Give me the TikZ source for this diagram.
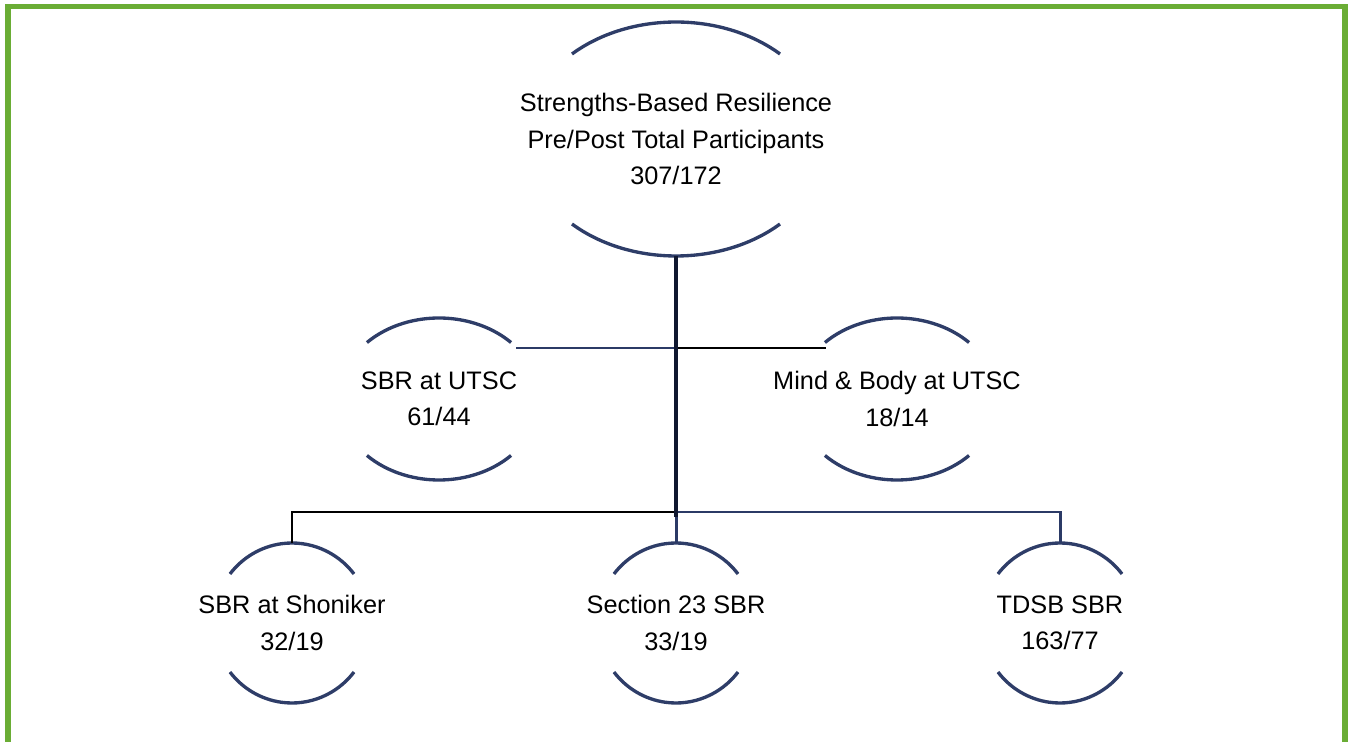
\documentclass[tikz,border=0pt]{standalone}
\usepackage{fontspec}
\setmainfont{Liberation Sans}
\usetikzlibrary{calc}
\definecolor{framegreen}{HTML}{6AAD35}
\definecolor{arcnavy}{HTML}{2E3D68}
\definecolor{linknavy}{HTML}{2B3A66}
\definecolor{trunkdark}{HTML}{101830}

% upper and lower arcs of a ring node: node, x radius, y radius, opening angle
\newcommand\ringarcs[4]{%
  \draw[arcline] (#1.center) ++(#4:#2 and #3)
    arc[start angle=#4, end angle=180-#4, x radius=#2*0.2mm, y radius=#3*0.2mm];
  \draw[arcline] (#1.center) ++(-#4:#2 and #3)
    arc[start angle=-#4, end angle=-180+#4, x radius=#2*0.2mm, y radius=#3*0.2mm];}

\begin{document}
\begin{tikzpicture}[x=0.2mm, y=0.2mm,
  nodetext/.style={align=center, font=\fontsize{14.4pt}{20.6pt}\selectfont, inner sep=0pt},
  arcline/.style={draw=arcnavy, line width=1.9pt},
  linkblack/.style={draw=black, line width=1.7pt},
  linkblue/.style={draw=linknavy, line width=1.7pt},
  trunk/.style={draw=trunkdark, line width=2.5pt},
  frame/.style={draw=framegreen, line width=3.4pt}]
\useasboundingbox (0,0) rectangle (1348,-742);

% outer frame, open at the bottom
\draw[frame] (8,-742) |- (1344.5,-6.5) -- (1344.5,-742);

% ring nodes
\node[nodetext] (root) at (676,-139) {Strengths-Based Resilience\\Pre/Post Total Participants\\307/172};
\node[nodetext] (utsc) at (439,-399) {SBR at UTSC\\61/44};
\node[nodetext] (mind) at (897,-399) {Mind \& Body at UTSC\\18/14};
\node[nodetext] (shon) at (292,-623) {SBR at Shoniker\\32/19};
\node[nodetext] (sec)  at (676,-623) {Section 23 SBR\\33/19};
\node[nodetext] (tdsb) at (1060,-623) {TDSB SBR\\163/77};

\ringarcs{root}{151.4}{117}{46.6}
\ringarcs{utsc}{100.5}{81}{44.2}
\ringarcs{mind}{100.5}{81}{44.2}
\ringarcs{shon}{78.5}{80}{37.8}
\ringarcs{sec}{78.5}{80}{37.8}
\ringarcs{tdsb}{78.5}{80}{37.8}

% connector points
\coordinate (rootbase) at ($(root.center)+(0,-117)$);
\coordinate (hubmid) at (676,-348);
\coordinate (hublow) at (676,-512);
\coordinate (utsclink) at (516,-348);
\coordinate (mindlink) at (826,-348);
\coordinate (shontop) at ($(shon.center)+(0,80)$);
\coordinate (sectop)  at ($(sec.center)+(0,80)$);
\coordinate (tdsbtop) at ($(tdsb.center)+(0,80)$);

% connectors
\draw[linkblue] (utsclink) -- (hubmid);
\draw[linkblack] (hubmid) -- (mindlink);
\draw[linkblack] (shontop) |- (hublow);
\draw[linkblue] (sectop) -- (hublow) -| (tdsbtop);
\draw[trunk] (rootbase) -- ([yshift=-3]hublow);
\end{tikzpicture}
\end{document}
